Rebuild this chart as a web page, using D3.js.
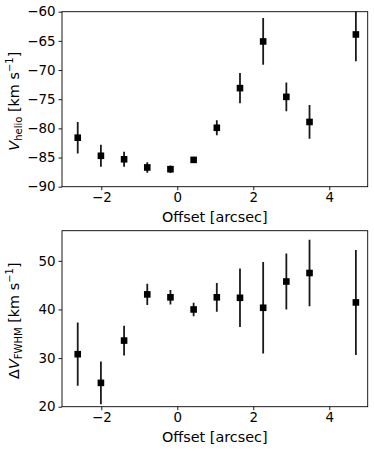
<!DOCTYPE html>
<html><head><meta charset="utf-8">
<script src="https://cdn.jsdelivr.net/npm/d3@7"></script>
<style>
body{margin:0;background:#fff;}
svg text{font-family:"DejaVu Sans",sans-serif;fill:#000;}
</style></head>
<body><svg id="c" width="374" height="451"></svg>
<script>
const offsets = [-2.62, -2.01, -1.40, -0.79, -0.18, 0.43, 1.04, 1.65, 2.26, 2.87, 3.48, 4.70];
const vhelio = [-81.6, -84.7, -85.3, -86.7, -87.0, -85.4, -79.9, -73.1, -65.1, -74.6, -78.9, -63.9];
const vhelioErr = [2.7, 1.9, 1.3, 0.9, 0.65, 0.3, 1.3, 2.6, 4.0, 2.45, 2.9, 4.6];
const fwhm = [30.8, 24.9, 33.6, 43.1, 42.5, 40.0, 42.5, 42.4, 40.35, 45.75, 47.5, 41.45];
const fwhmErr = [6.5, 4.4, 3.05, 2.2, 1.5, 1.4, 2.95, 6.0, 9.4, 5.75, 6.85, 10.8];
const xTicks = [-2, 0, 2, 4];
const vTicks = [-90, -85, -80, -75, -70, -65, -60];
const fTicks = [20, 30, 40, 50];

const svg = d3.select("#c");
const L = 62, R = 367.7;
const x = d3.scaleLinear().domain([-3.034, 5.011]).range([L, R]);
const fmt = d3.format("d");
const TICK_FS = "13.4px", LAB_FS = "14.4px", SUB_FS = "10px";

function panel(id, top, bottom, ydom, yticks, vals, errs, labelFn){
  const y = d3.scaleLinear().domain(ydom).range([bottom, top]);
  const g = svg.append("g");
  g.append("clipPath").attr("id", id).append("rect")
    .attr("x", L).attr("y", top).attr("width", R - L).attr("height", bottom - top);
  const data = offsets.map((o,i)=>({x:o, y:vals[i], e:errs[i]}));
  const pg = g.append("g").attr("clip-path", `url(#${id})`);
  pg.selectAll("line.err").data(data).join("line").attr("class","err")
    .attr("x1", d=>x(d.x)).attr("x2", d=>x(d.x))
    .attr("y1", d=>y(d.y - d.e)).attr("y2", d=>y(d.y + d.e))
    .attr("stroke", "#1a1a1a").attr("stroke-width", 1.8);
  const ms = 6.6;
  pg.selectAll("rect.m").data(data).join("rect").attr("class","m")
    .attr("x", d=>x(d.x) - ms/2).attr("y", d=>y(d.y) - ms/2)
    .attr("width", ms).attr("height", ms).attr("fill", "#000");
  // axes
  const xa = g.append("g").attr("transform", `translate(0,${bottom})`)
    .call(d3.axisBottom(x).tickValues(xTicks).tickFormat(fmt).tickSize(3.5).tickPadding(2.5));
  const ya = g.append("g").attr("transform", `translate(${L},0)`)
    .call(d3.axisLeft(y).tickValues(yticks).tickFormat(fmt).tickSize(3.5).tickPadding(3));
  [xa, ya].forEach(a=>{
    a.select(".domain").remove();
    a.selectAll("line").attr("stroke", "#000").attr("stroke-width", 0.9);
    a.selectAll("text").style("font-size", TICK_FS).style("font-family", '"DejaVu Sans",sans-serif').attr("fill","#000");
  });
  g.append("rect").attr("x", L).attr("y", top).attr("width", R - L).attr("height", bottom - top)
    .attr("fill", "none").attr("stroke", "#000").attr("stroke-width", 0.9);
  // x label
  g.append("text").attr("x", (L + R) / 2).attr("y", bottom + 35.5)
    .attr("text-anchor", "middle").style("font-size", LAB_FS).text("Offset [arcsec]");
  // y label
  const t = g.append("text").attr("transform", `translate(18.5,${(top + bottom) / 2 + 2}) rotate(-90)`)
    .attr("text-anchor", "middle").style("font-size", LAB_FS);
  labelFn(t);
}

panel("cp1", 11.7, 186.7, [-90, -60], vTicks, vhelio, vhelioErr, t=>{
  t.append("tspan").style("font-style","italic").text("V");
  t.append("tspan").attr("dy", 3.5).style("font-size",SUB_FS).text("helio");
  t.append("tspan").attr("dy", -3.5).text(" [km s");
  t.append("tspan").attr("dy", -6).style("font-size",SUB_FS).text("\u22121");
  t.append("tspan").attr("dy", 6).text("]");
});
panel("cp2", 230.7, 406.7, [20, 56.2], fTicks, fwhm, fwhmErr, t=>{
  t.append("tspan").text("\u0394");
  t.append("tspan").style("font-style","italic").text("V");
  t.append("tspan").attr("dy", 3.5).style("font-size",SUB_FS).text("FWHM");
  t.append("tspan").attr("dy", -3.5).text(" [km s");
  t.append("tspan").attr("dy", -6).style("font-size",SUB_FS).text("\u22121");
  t.append("tspan").attr("dy", 6).text("]");
});
</script></body></html>
